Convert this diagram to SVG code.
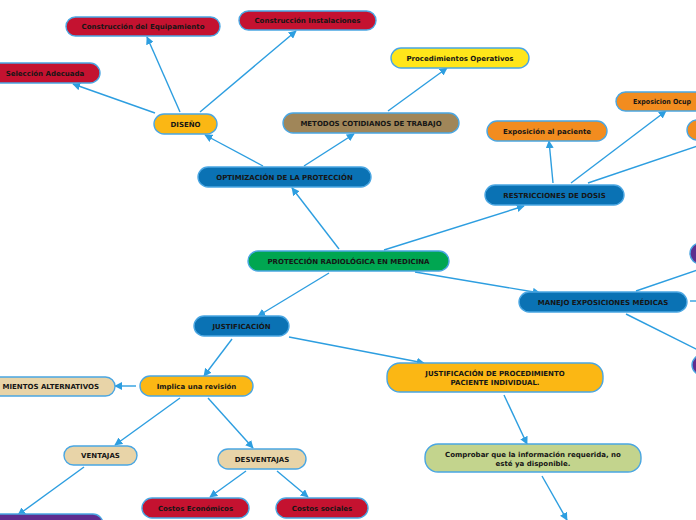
<svg xmlns="http://www.w3.org/2000/svg" width="696" height="520" viewBox="0 0 696 520">
<style>
.n{stroke:#4aa6e2;stroke-width:1.4}
.t{font-family:"DejaVu Sans",Verdana,sans-serif;font-weight:bold;font-size:7px;fill:#161616;text-anchor:middle}
.red{fill:#c41230}.blue{fill:#0a72b4}.grn{fill:#00a651}.oy{fill:#fbb714}.yel{fill:#ffe61a}
.org{fill:#f28c1f}.brn{fill:#a08659}.bei{fill:#e8d4a8}.olv{fill:#c3d48d}.pur{fill:#5e2d8f}
.c{stroke:#2d9ee0;stroke-width:1.4;fill:none}
</style>
<defs>
<marker id="a" viewBox="0 0 10 10" refX="9" refY="5" markerWidth="8" markerHeight="8" markerUnits="userSpaceOnUse" orient="auto">
<path d="M0,0 L10,5 L0,10 z" fill="#2d9ee0"/>
</marker>
</defs>
<rect width="696" height="520" fill="#ffffff"/>
<g id="connectors">
<line class="c" x1="263" y1="166" x2="205" y2="135" marker-end="url(#a)"/>
<line class="c" x1="304" y1="166" x2="354" y2="134" marker-end="url(#a)"/>
<line class="c" x1="155" y1="113" x2="73" y2="84" marker-end="url(#a)"/>
<line class="c" x1="180" y1="112" x2="147" y2="37" marker-end="url(#a)"/>
<line class="c" x1="200" y1="112" x2="296" y2="31" marker-end="url(#a)"/>
<line class="c" x1="388" y1="111" x2="447" y2="68" marker-end="url(#a)"/>
<line class="c" x1="339" y1="249" x2="292" y2="188" marker-end="url(#a)"/>
<line class="c" x1="384" y1="250" x2="524" y2="206" marker-end="url(#a)"/>
<line class="c" x1="553" y1="183" x2="549" y2="141" marker-end="url(#a)"/>
<line class="c" x1="571" y1="183" x2="666" y2="111" marker-end="url(#a)"/>
<line class="c" x1="588" y1="183" x2="712" y2="141"/>
<line class="c" x1="415" y1="272" x2="540" y2="293" marker-end="url(#a)"/>
<line class="c" x1="636" y1="291" x2="712" y2="265"/>
<line class="c" x1="690" y1="301" x2="710" y2="301"/>
<line class="c" x1="626" y1="314" x2="712" y2="357"/>
<line class="c" x1="329" y1="273" x2="258" y2="316" marker-end="url(#a)"/>
<line class="c" x1="232" y1="339" x2="204" y2="376" marker-end="url(#a)"/>
<line class="c" x1="289" y1="337" x2="424" y2="363" marker-end="url(#a)"/>
<line class="c" x1="504" y1="395" x2="527" y2="444" marker-end="url(#a)"/>
<line class="c" x1="542" y1="476" x2="567" y2="520" marker-end="url(#a)"/>
<line class="c" x1="136" y1="386" x2="115" y2="386" marker-end="url(#a)"/>
<line class="c" x1="180" y1="398" x2="115" y2="445" marker-end="url(#a)"/>
<line class="c" x1="208" y1="398" x2="253" y2="448" marker-end="url(#a)"/>
<line class="c" x1="84" y1="467" x2="18" y2="515" marker-end="url(#a)"/>
<line class="c" x1="246" y1="471" x2="210" y2="497" marker-end="url(#a)"/>
<line class="c" x1="277" y1="471" x2="308" y2="497" marker-end="url(#a)"/>
</g>
<g id="n-equip"><rect class="n red" x="66" y="17" width="154" height="19" rx="9.5"/><text class="t" x="143" y="29">Construcción del Equipamiento</text></g>
<g id="n-instal"><rect class="n red" x="239" y="11" width="137" height="19" rx="9.5"/><text class="t" x="307.5" y="23">Construcción Instalaciones</text></g>
<g id="n-seleccion"><rect class="n red" x="-12" y="63" width="112" height="20" rx="10"/><text class="t" x="45" y="75.5">Selección Adecuada</text></g>
<g id="n-diseno"><rect class="n oy" x="154" y="114" width="63" height="20" rx="10"/><text class="t" x="185.5" y="126.5">DISEÑO</text></g>
<g id="n-optim"><rect class="n blue" x="198" y="167" width="173" height="20" rx="10"/><text class="t" x="284.5" y="179.5">OPTIMIZACIÓN DE LA PROTECCIÓN</text></g>
<g id="n-metodos"><rect class="n brn" x="283" y="113" width="176" height="20" rx="10"/><text class="t" x="371" y="125.5">METODOS COTIDIANOS DE TRABAJO</text></g>
<g id="n-procop"><rect class="n yel" x="391" y="48" width="138" height="20" rx="10"/><text class="t" x="460" y="60.5">Procedimientos Operativos</text></g>
<g id="n-expac"><rect class="n org" x="487" y="121" width="120" height="20" rx="10"/><text class="t" x="547" y="133.5">Exposición al paciente</text></g>
<g id="n-exocup"><rect class="n org" x="616" y="92" width="140" height="19" rx="9.5"/><text class="t" x="633" y="104" style="text-anchor:start" textLength="58" lengthAdjust="spacingAndGlyphs">Exposicion Ocup</text></g>
<g id="n-orange3"><rect class="n org" x="687" y="120" width="60" height="20" rx="10"/></g>
<g id="n-restr"><rect class="n blue" x="485" y="185" width="139" height="20" rx="10"/><text class="t" x="554.5" y="197.5">RESTRICCIONES DE DOSIS</text></g>
<g id="n-root"><rect class="n grn" x="248" y="251" width="201" height="20" rx="10"/><text class="t" x="348.5" y="263.5">PROTECCIÓN RADIOLÓGICA EN MEDICINA</text></g>
<g id="n-manejo"><rect class="n blue" x="519" y="292" width="168" height="20" rx="10"/><text class="t" x="603" y="304.5">MANEJO EXPOSICIONES MÉDICAS</text></g>
<g id="n-pur1"><rect class="n pur" x="690" y="243" width="60" height="21" rx="10.5"/></g>
<g id="n-pur2"><rect class="n pur" x="692" y="355" width="60" height="20" rx="10"/></g>
<g id="n-justif"><rect class="n blue" x="194" y="316" width="95" height="20" rx="10"/><text class="t" x="241.5" y="328.5">JUSTIFICACIÓN</text></g>
<g id="n-justproc"><rect class="n oy" x="387" y="363" width="216" height="29" rx="13"/><text class="t" x="495" y="376">JUSTIFICACIÓN DE PROCEDIMIENTO</text><text class="t" x="495" y="385">PACIENTE INDIVIDUAL.</text></g>
<g id="n-implica"><rect class="n oy" x="140" y="376" width="113" height="20" rx="10"/><text class="t" x="196.5" y="388.5">Implica una revisión</text></g>
<g id="n-alt"><rect class="n bei" x="-60" y="377" width="175" height="19" rx="9.5"/><text class="t" x="99" y="389" style="text-anchor:end">MIENTOS ALTERNATIVOS</text></g>
<g id="n-ventajas"><rect class="n bei" x="64" y="446" width="73" height="19" rx="9.5"/><text class="t" x="100.5" y="458">VENTAJAS</text></g>
<g id="n-desv"><rect class="n bei" x="218" y="449" width="88" height="20" rx="10"/><text class="t" x="262" y="461.5">DESVENTAJAS</text></g>
<g id="n-coseco"><rect class="n red" x="142" y="498" width="107" height="20" rx="10"/><text class="t" x="195.5" y="510.5">Costos Económicos</text></g>
<g id="n-cossoc"><rect class="n red" x="276" y="498" width="92" height="20" rx="10"/><text class="t" x="322" y="510.5">Costos sociales</text></g>
<g id="n-pur3"><rect class="n pur" x="-20" y="514" width="123" height="26" rx="10"/></g>
<g id="n-comprobar"><rect class="n olv" x="425" y="444" width="216" height="28" rx="13"/><text class="t" x="533" y="456.5">Comprobar que la información requerida, no</text><text class="t" x="533" y="465.5">esté ya disponible.</text></g>
</svg>
